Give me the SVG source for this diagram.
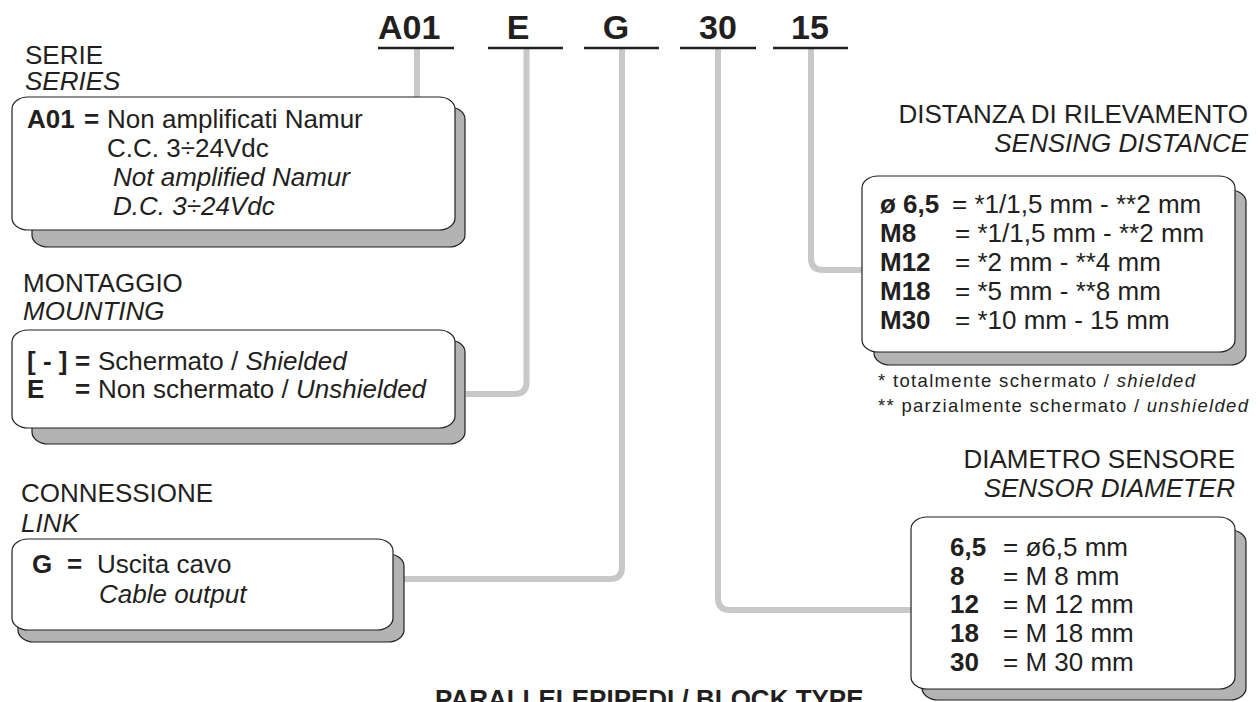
<svg xmlns="http://www.w3.org/2000/svg" width="1259" height="702" viewBox="0 0 1259 702">
<style>
text{font-family:"Liberation Sans",Arial,sans-serif;fill:#231f20}
.code{font-size:34px;font-weight:bold}
.lab{font-size:26px}
.t{font-size:26px}
.b{font-weight:bold}
.i{font-style:italic}
.fn{font-size:18.5px}
.box{fill:#fff;stroke:#231f20;stroke-width:1.2}
.sh{fill:#b3b3b3;stroke:#231f20;stroke-width:1.2}
.ul{stroke:#231f20;stroke-width:2.6}
.con{fill:none;stroke:#c8c8c8;stroke-width:6;stroke-linejoin:round}
</style>
<rect width="1259" height="702" fill="#fff"/>
<g id="connectors">
<path class="con" d="M417,49 V98"/>
<path class="con" d="M526.5,49 V382 Q526.5,394 514.5,394 H466"/>
<path class="con" d="M622,49 V567 Q622,579 610,579 H404"/>
<path class="con" d="M718,49 V598 Q718,610 730,610 H911"/>
<path class="con" d="M811,49 V258 Q811,270 823,270 H862"/>
</g>
<g id="code">
<text class="code" x="378" y="39">A01</text>
<text class="code" x="518" y="39" text-anchor="middle">E</text>
<text class="code" x="616" y="39" text-anchor="middle">G</text>
<text class="code" x="718" y="39" text-anchor="middle">30</text>
<text class="code" x="810" y="39" text-anchor="middle">15</text>
<line class="ul" x1="378" y1="48" x2="454" y2="48"/>
<line class="ul" x1="488" y1="48" x2="563" y2="48"/>
<line class="ul" x1="584" y1="48" x2="659" y2="48"/>
<line class="ul" x1="680" y1="48" x2="756" y2="48"/>
<line class="ul" x1="773" y1="48" x2="848" y2="48"/>
</g>
<g id="serie">
<text class="lab" x="25" y="64">SERIE</text>
<text class="lab i" x="25" y="90">SERIES</text>
<rect class="sh" x="32" y="107" width="433" height="140" rx="16" ry="12"/>
<rect class="box" x="12" y="97" width="443" height="133" rx="16" ry="12"/>
<text class="t b" x="27" y="128">A01</text>
<text class="t b" x="84" y="128">=</text>
<text class="t" x="107" y="128">Non amplificati Namur</text>
<text class="t" x="107" y="157">C.C. 3÷24Vdc</text>
<text class="t i" x="113" y="186">Not amplified Namur</text>
<text class="t i" x="113" y="215">D.C. 3÷24Vdc</text>
</g>
<g id="montaggio">
<text class="lab" x="23" y="292">MONTAGGIO</text>
<text class="lab i" x="23" y="320">MOUNTING</text>
<rect class="sh" x="32" y="340" width="433" height="104" rx="16" ry="12"/>
<rect class="box" x="12" y="330" width="443" height="98" rx="16" ry="12"/>
<text class="t b" x="27" y="370">[ - ]</text>
<text class="t b" x="75" y="370">=</text>
<text class="t" x="98" y="370">Schermato / <tspan class="i">Shielded</tspan></text>
<text class="t b" x="27" y="398">E</text>
<text class="t b" x="75" y="398">=</text>
<text class="t" x="98" y="398">Non schermato / <tspan class="i">Unshielded</tspan></text>
</g>
<g id="connessione">
<text class="lab" x="21" y="502">CONNESSIONE</text>
<text class="lab i" x="21" y="532">LINK</text>
<rect class="sh" x="18" y="554" width="386" height="88" rx="16" ry="12"/>
<rect class="box" x="12" y="539" width="381" height="91" rx="16" ry="12"/>
<text class="t b" x="32" y="573">G</text>
<text class="t b" x="67" y="573">=</text>
<text class="t" x="97" y="573">Uscita cavo</text>
<text class="t i" x="99" y="603">Cable output</text>
</g>
<g id="distanza">
<text class="lab" x="1248" y="123" text-anchor="end">DISTANZA DI RILEVAMENTO</text>
<text class="lab i" x="1248" y="152" text-anchor="end">SENSING DISTANCE</text>
<rect class="sh" x="874" y="190" width="372" height="175" rx="16" ry="12"/>
<rect class="box" x="862" y="176" width="373" height="176" rx="16" ry="12"/>
<text class="t b" x="880" y="213">ø 6,5</text>
<text class="t" x="952" y="213">= *1/1,5 mm - **2 mm</text>
<text class="t b" x="880" y="242">M8</text>
<text class="t" x="955" y="242">= *1/1,5 mm - **2 mm</text>
<text class="t b" x="880" y="271">M12</text>
<text class="t" x="955" y="271">= *2 mm - **4 mm</text>
<text class="t b" x="880" y="300">M18</text>
<text class="t" x="955" y="300">= *5 mm - **8 mm</text>
<text class="t b" x="880" y="329">M30</text>
<text class="t" x="955" y="329">= *10 mm - 15 mm</text>
<text class="fn" x="878" y="387" textLength="317" lengthAdjust="spacing">* totalmente schermato / <tspan class="i">shielded</tspan></text>
<text class="fn" x="878" y="412" textLength="370" lengthAdjust="spacing">** parzialmente schermato / <tspan class="i">unshielded</tspan></text>
</g>
<g id="diametro">
<text class="lab" x="1235" y="468" text-anchor="end">DIAMETRO SENSORE</text>
<text class="lab i" x="1235" y="497" text-anchor="end">SENSOR DIAMETER</text>
<rect class="sh" x="922" y="530" width="324" height="170" rx="16" ry="12"/>
<rect class="box" x="911" y="517" width="324" height="172" rx="16" ry="12"/>
<text class="t b" x="950" y="556">6,5</text>
<text class="t" x="1003" y="556">= ø6,5 mm</text>
<text class="t b" x="950" y="585">8</text>
<text class="t" x="1003" y="585">= M 8 mm</text>
<text class="t b" x="950" y="613">12</text>
<text class="t" x="1003" y="613">= M 12 mm</text>
<text class="t b" x="950" y="642">18</text>
<text class="t" x="1003" y="642">= M 18 mm</text>
<text class="t b" x="950" y="671">30</text>
<text class="t" x="1003" y="671">= M 30 mm</text>
</g>
<g id="title">
<text class="t b" x="435" y="708" font-size="25">PARALLELEPIPEDI / BLOCK TYPE</text>
</g>
</svg>
